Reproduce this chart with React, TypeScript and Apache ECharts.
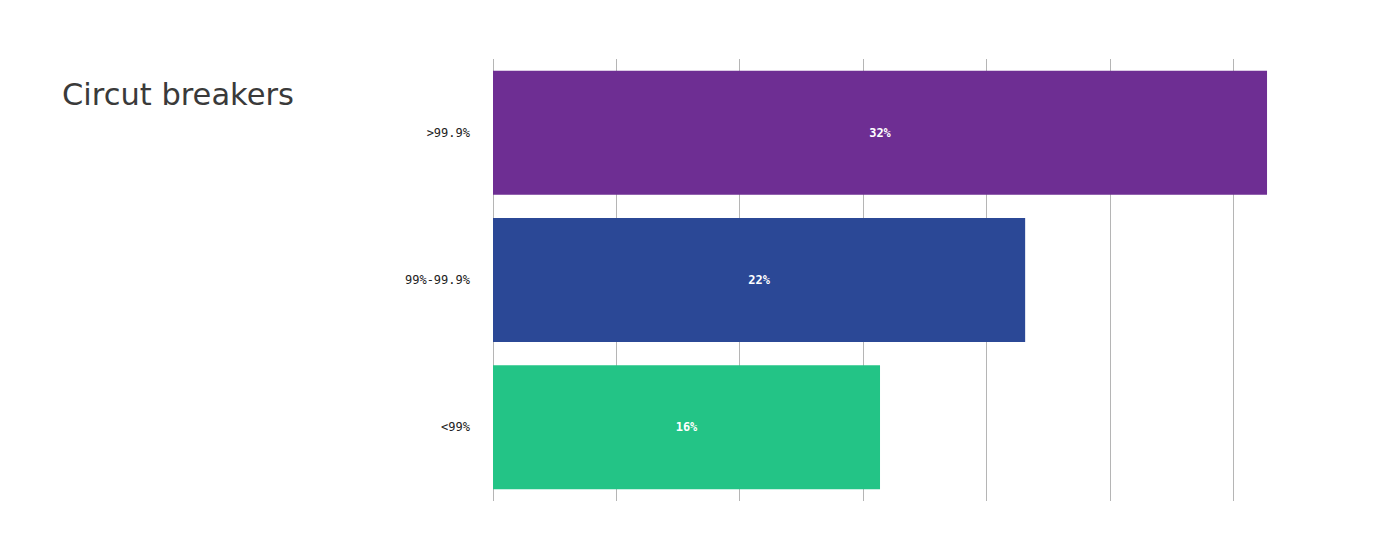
import React, { useEffect, useRef } from "react";
import * as echarts from "echarts";

const categories = [">99.9%", "99%-99.9%", "<99%"];
const values = [32, 22, 16];
const barColors = ["#6E2E93", "#2B4896", "#23C486"];
const titleText = "Circut breakers";

export default function App() {
  const ref = useRef<HTMLDivElement>(null);
  useEffect(() => {
    if (!ref.current) return;
    const chart = echarts.init(ref.current, undefined, { renderer: "svg" });
    chart.setOption({
      animation: false,
      backgroundColor: "#ffffff",
      title: {
        text: titleText,
        left: 57,
        top: 74,
        textStyle: {
          fontFamily: "DejaVu Sans",
          fontSize: 30.5,
          fontWeight: "normal",
          color: "#3a3a3a",
        },
      },
      grid: { left: 493, top: 59, height: 442, right: 60.4 },
      xAxis: {
        type: "value",
        min: 0,
        max: 35,
        interval: 5.1,
        axisLabel: { show: false },
        axisTick: { show: false },
        axisLine: { show: false },
        splitLine: {
          show: true,
          showMaxLine: false,
          lineStyle: { color: "#b5b5b5", width: 1 },
        },
      },
      yAxis: {
        type: "category",
        data: categories,
        inverse: true,
        axisLine: { show: false },
        axisTick: { show: false },
        axisLabel: {
          margin: 23,
          fontFamily: "DejaVu Sans Mono",
          fontSize: 12,
          color: "#222222",
          padding: [2, 0, 0, 0],
        },
      },
      series: [
        {
          type: "bar",
          data: values.map((v, i) => ({ value: v, itemStyle: { color: barColors[i] } })),
          barCategoryGap: "15.8%",
          label: {
            show: true,
            position: "inside",
            formatter: (p: any) => p.value + "%",
            fontFamily: "DejaVu Sans Mono",
            fontSize: 12,
            fontWeight: "bold",
            color: "#ffffff",
          },
        },
      ],
    });
    return () => chart.dispose();
  }, []);
  return (
    <div
      ref={ref}
      style={{ position: "fixed", left: 0, top: 0, width: 1400, height: 560 }}
    />
  );
}
